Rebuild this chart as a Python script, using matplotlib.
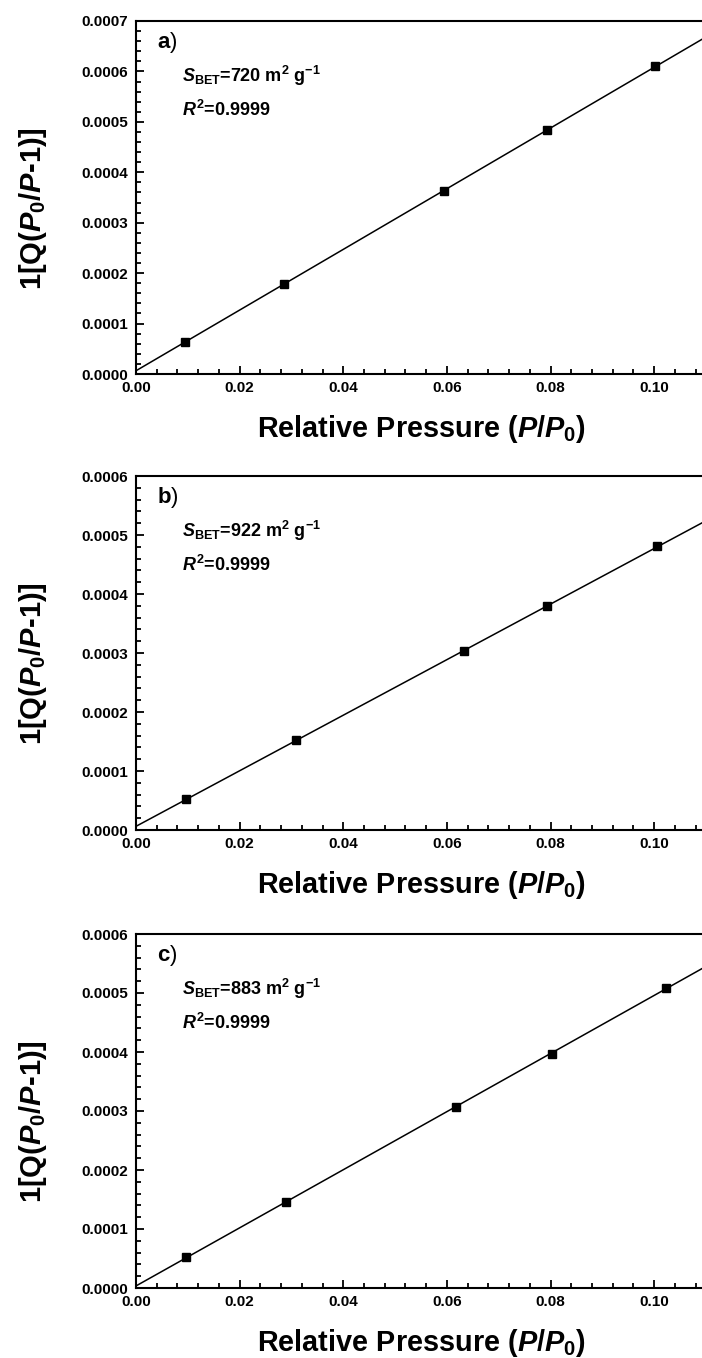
import numpy as np
import matplotlib
matplotlib.use('Agg')
from matplotlib import pyplot as plt
from matplotlib.ticker import MultipleLocator, FormatStrFormatter

plt.rcParams['font.family'] = ['Liberation Sans', 'DejaVu Sans']
plt.rcParams['font.weight'] = 'bold'
plt.rcParams['mathtext.fontset'] = 'custom'
plt.rcParams['mathtext.rm'] = 'Liberation Sans:bold'
plt.rcParams['mathtext.bf'] = 'Liberation Sans:bold'
plt.rcParams['mathtext.it'] = 'Liberation Sans:italic:bold'

# BET plot data
x_a = [0.0095, 0.0285, 0.0595, 0.0793, 0.1002]
y_a = [6.4e-5, 1.79e-4, 3.62e-4, 4.83e-4, 6.11e-4]
x_b = [0.0097, 0.0308, 0.0633, 0.0793, 0.1006]
y_b = [5.2e-5, 1.52e-4, 3.03e-4, 3.79e-4, 4.81e-4]
x_c = [0.0097, 0.0290, 0.0617, 0.0802, 0.1023]
y_c = [5.2e-5, 1.465e-4, 3.06e-4, 3.97e-4, 5.09e-4]

labels = ['a', 'b', 'c']
s_bet = [720, 922, 883]
r2 = ['0.9999', '0.9999', '0.9999']
ymax = [0.0007, 0.0006, 0.0006]

xs = [x_a, x_b, x_c]
ys = [y_a, y_b, y_c]

W, H = 702, 1358
fig = plt.figure(figsize=(W / 100, H / 100), dpi=100)

# axes boxes in pixels: left, top, bottom
left = 136
width = 570
tops = [21, 476, 934]
bottoms = [374, 830, 1288]

for i in range(3):
    ax = fig.add_axes([left / W, 1 - bottoms[i] / H, width / W, (bottoms[i] - tops[i]) / H])
    x = np.array(xs[i])
    y = np.array(ys[i])
    k, b = np.polyfit(x, y, 1)
    xl = np.array([0.0, 0.11])
    ax.plot(xl, k * xl + b, color='k', lw=1.1)
    ax.plot(x, y, 'ks', ms=5.8)

    ax.set_xlim(0, 0.11)
    ax.set_ylim(0, ymax[i])
    ax.xaxis.set_major_locator(MultipleLocator(0.02))
    ax.xaxis.set_minor_locator(MultipleLocator(0.004))
    ax.yaxis.set_major_locator(MultipleLocator(0.0001))
    ax.yaxis.set_minor_locator(MultipleLocator(0.00002))
    ax.xaxis.set_major_formatter(FormatStrFormatter('%.2f'))
    ax.yaxis.set_major_formatter(FormatStrFormatter('%.4f'))
    ax.tick_params(which='both', direction='in', top=False, right=False, width=1.3)
    ax.tick_params(which='major', length=6, labelsize=11)
    ax.tick_params(axis='y', which='major', pad=6)
    ax.tick_params(axis='x', which='major', pad=5)
    ax.tick_params(which='minor', length=3.5)
    for sp in ax.spines.values():
        sp.set_linewidth(1.5)
    ax.spines['right'].set_visible(False)

    ax.set_xlabel(r'Relative Pressure ($P$/$P_0$)', fontsize=20.8, fontweight='bold')
    ax.xaxis.set_label_coords(0.5, -0.11)
    ax.set_ylabel(r'1[Q($P_0$/$P$-1)]', fontsize=21, fontweight='bold')
    ax.yaxis.set_label_coords(-0.152, 0.47)

    ax.text(0.037, 0.94, r'$\mathbf{' + labels[i] + '}$)', transform=ax.transAxes,
            fontsize=16, fontweight='normal', va='center', ha='left')
    ax.text(0.081, 0.845, r'$S_{\mathrm{BET}}$=' + str(s_bet[i]) + r' m$^2$ g$^{-1}$',
            transform=ax.transAxes, fontsize=13, fontweight='bold', va='center', ha='left')
    ax.text(0.081, 0.748, r'$R^2$=' + r2[i], transform=ax.transAxes,
            fontsize=13, fontweight='bold', va='center', ha='left')

plt.savefig('out.png', dpi=100)
